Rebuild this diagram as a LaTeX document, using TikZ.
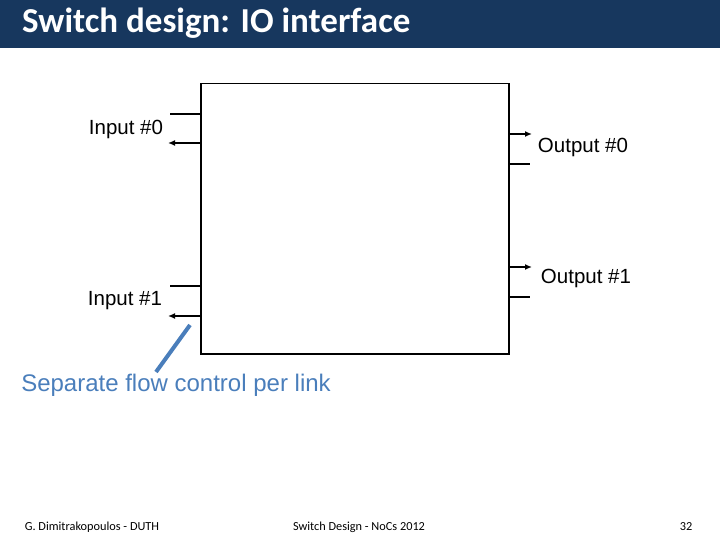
\documentclass[tikz,border=0pt]{standalone}
\usepackage{fontspec}
\setmainfont{Carlito}
\newfontfamily\arialf{Liberation Sans}
\definecolor{navy}{HTML}{17375E}
\definecolor{sblue}{HTML}{4A7EBB}
\tikzset{lbl/.style={font=\arialf\fontsize{20.5}{23}\selectfont, inner sep=0pt},
  wire/.style={line width=1.5pt},
  arr/.style={line width=1.5pt,-{Latex[length=7pt,width=6pt]}},
  foot/.style={font=\fontsize{12.3}{14}\selectfont, inner sep=0pt}}
\usetikzlibrary{arrows.meta}
\begin{document}
\begin{tikzpicture}[x=1pt,y=-1pt]
\useasboundingbox (0,0) rectangle (720,540);
\fill[navy] (0,0) rectangle (720,48);
\node[anchor=west, text=white, font=\bfseries\fontsize{35}{38}\selectfont, inner sep=0pt] (title) at (22,23) {Switch design: IO interface};
\node[draw, line width=1.5pt, minimum width=308pt, minimum height=270pt, anchor=north west, inner sep=0pt] (box) at (200,83) {};
% inputs
\coordinate (i0a) at (170,114); \coordinate (i0b) at (200,114);
\draw[wire] (i0a) -- (i0b);
\coordinate (i0c) at (200,143); \coordinate (i0d) at (168,143);
\draw[arr] (i0c) -- (i0d);
\node[lbl] (in0) at (126,129) {Input \#0};
\coordinate (i1a) at (170,286); \coordinate (i1b) at (200,286);
\draw[wire] (i1a) -- (i1b);
\coordinate (i1c) at (200,316); \coordinate (i1d) at (168,316);
\draw[arr] (i1c) -- (i1d);
\node[lbl] (in1) at (125,301) {Input \#1};
% outputs
\coordinate (o0a) at (508,134); \coordinate (o0b) at (532,134);
\draw[arr] (o0a) -- (o0b);
\coordinate (o0c) at (508,164); \coordinate (o0d) at (530,164);
\draw[wire] (o0c) -- (o0d);
\node[lbl] (out0) at (583,147) {Output \#0};
\coordinate (o1a) at (508,267); \coordinate (o1b) at (532,267);
\draw[arr] (o1a) -- (o1b);
\coordinate (o1c) at (508,297); \coordinate (o1d) at (530,297);
\draw[wire] (o1c) -- (o1d);
\node[lbl] (out1) at (586,278) {Output \#1};
% annotation
\node[lbl, text=sblue, font=\arialf\fontsize{24}{27}\selectfont] (note) at (176,385) {Separate flow control per link};
\coordinate (p1) at (190,325); \coordinate (p2) at (156,372);
\draw[sblue, line width=4pt] (p1) -- (p2);
% footer
\node[foot] (f1) at (92,527) {G. Dimitrakopoulos - DUTH};
\node[foot] (f2) at (359,527) {Switch Design - NoCs 2012};
\node[foot] (f3) at (686,527) {32};
\end{tikzpicture}
\end{document}
